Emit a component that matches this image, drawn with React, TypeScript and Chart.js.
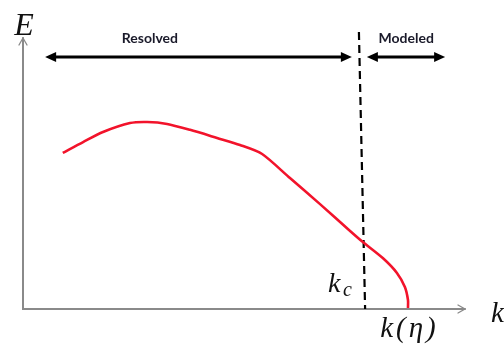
import React, { useEffect, useRef } from "react";
import { Chart, registerables } from "chart.js";

Chart.register(...registerables);

// Energy spectrum curve (schematic units: k 0..100, E 0..100)
const kValues = [9.0, 13.6, 18.1, 24.2, 28.1, 32.6, 37.8, 43.9, 49.1, 54.1, 60.4, 67.2, 74.0, 76.9, 81.4, 84.6, 86.4, 87.1, 87.1];
const energyValues = [57.6, 61.6, 65.3, 68.6, 69.0, 68.3, 66.1, 63.1, 60.5, 57.2, 48.3, 38.7, 28.8, 24.7, 18.8, 13.3, 8.1, 3.3, 0.4];

// cutoff wavenumber k_c (dashed line)
const cutoffK = [76.0, 77.4];
const cutoffE = [102.2, 0];

// range arrows
const resolvedRange = [5.0, 74.4];
const modeledRange = [77.8, 95.5];
const rangeLevel = 93.0;
const rangeLabels = ["Resolved", "Modeled"];
const rangeLabelK = [28.7, 86.7];

const SERIF = '"Liberation Serif", "Times New Roman", serif';

function arrowHead(ctx: CanvasRenderingContext2D, x: number, y: number, dir: number) {
  ctx.beginPath();
  ctx.moveTo(x, y);
  ctx.lineTo(x - dir * 11, y - 5);
  ctx.lineTo(x - dir * 11, y + 5);
  ctx.closePath();
  ctx.fill();
}

const decorPlugin = {
  id: "decor",
  beforeDatasetsDraw(chart: any) {
    const { ctx, chartArea } = chart;
    const { left, right, top, bottom } = chartArea;
    ctx.save();
    ctx.strokeStyle = "#8a8a8a";
    ctx.lineWidth = 2;
    ctx.lineCap = "round";
    // axes
    ctx.beginPath();
    ctx.moveTo(left, top);
    ctx.lineTo(left, bottom);
    ctx.lineTo(right, bottom);
    ctx.stroke();
    ctx.lineWidth = 1.3;
    ctx.beginPath();
    ctx.moveTo(left - 4, top + 7);
    ctx.lineTo(left, top);
    ctx.lineTo(left + 4, top + 7);
    ctx.moveTo(right - 7, bottom - 4);
    ctx.lineTo(right, bottom);
    ctx.lineTo(right - 7, bottom + 4);
    ctx.stroke();
    ctx.restore();
  },
  afterDraw(chart: any) {
    const { ctx, chartArea } = chart;
    const xs = chart.scales.x;
    const ys = chart.scales.y;
    const { left, bottom } = chartArea;
    ctx.save();
    // range arrows
    ctx.strokeStyle = "#000";
    ctx.fillStyle = "#000";
    ctx.lineWidth = 3;
    const yLev = ys.getPixelForValue(rangeLevel);
    [resolvedRange, modeledRange].forEach((r) => {
      const x0 = xs.getPixelForValue(r[0]);
      const x1 = xs.getPixelForValue(r[1]);
      ctx.beginPath();
      ctx.moveTo(x0 + 8, yLev);
      ctx.lineTo(x1 - 8, yLev);
      ctx.stroke();
      arrowHead(ctx, x0, yLev, -1);
      arrowHead(ctx, x1, yLev, 1);
    });
    ctx.font = 'bold 14px Lato, "Open Sans", sans-serif';
    ctx.fillStyle = "#1a1a2a";
    ctx.textAlign = "center";
    ctx.textBaseline = "alphabetic";
    rangeLabels.forEach((t, i) => {
      ctx.fillText(t, xs.getPixelForValue(rangeLabelK[i]), yLev - 14);
    });
    // axis labels
    ctx.fillStyle = "#111";
    ctx.font = `italic 32px ${SERIF}`;
    ctx.textAlign = "center";
    ctx.fillText("E", left + 1, 35);
    ctx.textAlign = "left";
    ctx.font = `italic 29px ${SERIF}`;
    ctx.fillText("k", 491, bottom + 13);
    // k_c
    const kcX = xs.getPixelForValue(69.0);
    const kcY = ys.getPixelForValue(6.3);
    ctx.font = `italic 28px ${SERIF}`;
    ctx.fillText("k", kcX, kcY);
    ctx.font = `italic 20px ${SERIF}`;
    ctx.fillText("c", kcX + 15, kcY + 4);
    // k(eta)
    ctx.font = `italic 29px ${SERIF}`;
    (ctx as any).letterSpacing = "3px";
    ctx.fillText("k(η)", xs.getPixelForValue(80.8), bottom + 28);
    ctx.restore();
  },
};

export default function App() {
  const ref = useRef<HTMLCanvasElement | null>(null);
  useEffect(() => {
    if (!ref.current) return;
    const chart = new Chart(ref.current, {
      type: "line",
      data: {
        datasets: [
          {
            label: "E(k)",
            data: kValues.map((k, i) => ({ x: k, y: energyValues[i] })),
            borderColor: "#f2132b",
            borderWidth: 2.6,
            pointRadius: 0,
            tension: 0.25,
            fill: false,
          },
          {
            label: "kc",
            data: cutoffK.map((k, i) => ({ x: k, y: cutoffE[i] })),
            borderColor: "#000",
            borderWidth: 2.2,
            borderDash: [8, 5],
            pointRadius: 0,
            clip: false as any,
            fill: false,
          },
        ],
      },
      options: {
        responsive: false,
        animation: false,
        layout: { padding: { left: 23, right: 39, top: 38, bottom: 55 } },
        plugins: { legend: { display: false }, tooltip: { enabled: false } },
        scales: {
          x: { type: "linear", min: 0, max: 100, display: false },
          y: { type: "linear", min: 0, max: 100, display: false },
        },
      },
      plugins: [decorPlugin],
    });
    return () => chart.destroy();
  }, []);
  return (
    <div style={{ position: "fixed", left: 0, top: 0, width: 504, height: 364, background: "#fff" }}>
      <canvas ref={ref} width={504} height={364} />
    </div>
  );
}
